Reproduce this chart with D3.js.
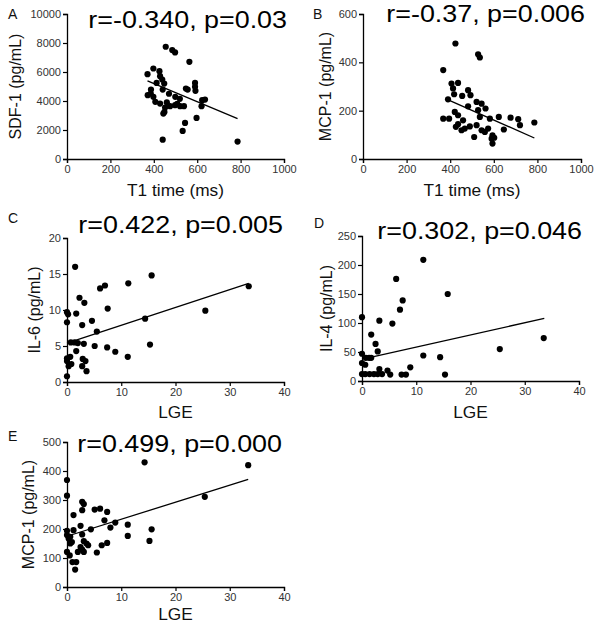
<!DOCTYPE html>
<html><head><meta charset="utf-8">
<script src="https://cdn.jsdelivr.net/npm/d3@7"></script>
<style>body{margin:0;background:#fff}svg{display:block;font-family:Arial,"Liberation Sans",sans-serif}</style>
</head><body><svg id="c" width="600" height="628"></svg>
<script>
// ---- data ----
const aT1 = [455,485,498,564,371,398,426,429,439,413,448,387,372,386,398,441,499,548,556,590,592,590,623,636,620,597,544,533,441,786,407,429,452,449,444,475,498,521,539,508,520,460,470];
const aSDF1 = [7742,7510,7350,6700,5850,6240,6060,5710,5480,5250,5200,4790,4400,4516,4286,4790,4286,4860,4790,5250,4700,4976,4055,4100,3640,2830,2490,1935,1336,1200,3940,3825,3550,3250,3130,3640,3710,3640,3640,3800,4150,3900,4500];
const aFit = [[371,5392],[786,2788]];

const bT1 = [424,528,536,368,406,436,413,418,482,493,455,390,482,521,544,562,528,395,368,421,436,459,536,582,623,677,712,436,426,452,467,490,521,510,544,559,574,594,590,602,594,646,720,786];
const bMCP1 = [478,433,420,368,312,315,292,268,285,264,261,247,218,236,229,209,202,167,167,195,181,160,174,167,174,171,165,144,133,119,126,135,140,91,119,112,126,98,84,88,64,122,140,151];
const bFit = [[383,248],[786,87]];

const cLGE = [1.5,15.6,11.3,7.0,6.1,33.5,2.3,3.2,7.5,25.5,0,0.2,1.7,4.6,14.4,0,2.8,5.5,0.7,1.4,2.0,3.1,5.1,7.4,8.9,11.2,15.3,1.7,0.6,0,0,2.9,3.4,0.8,0.3,2.8,3.6,0];
const cIL6 = [16.0,14.8,13.7,13.4,13.0,13.3,11.7,11.0,10.2,9.9,9.7,9.4,9.5,8.5,8.8,8.3,7.9,7.0,5.5,5.5,5.4,5.3,5.0,4.8,4.2,3.5,5.2,4.3,3.5,3.3,2.9,3.2,2.9,2.5,2.2,2.2,1.5,0.8];
const cFit = [[0,5.4],[33.5,13.7]];

const dLGE = [11.3,6.3,15.8,7.5,7.0,0,3.2,5.6,1.7,2.5,2.9,0,0.7,1.3,1.7,11.3,14.4,25.4,33.5,0,0.6,8.9,3.2,4.7,0,0.6,1.4,2.2,2.9,3.7,5.2,7.3,8.1,15.3];
const dIL4 = [209,176,150,139,123,110,104,99,80,64,51,47,40,40,40,44,41,55,74,31,28,23.5,20.6,18,12,12,12,12,12,12,11,11,11,11];
const dFit = [[0.3,38],[33.6,108]];

const eLGE = [14.3,33.4,0,0,25.4,2.8,3.1,2.8,5.1,6.1,1.2,7.4,6.9,8.9,8.0,11.2,15.6,2.5,4.4,1.2,0,2.8,0,11.2,0.3,0.6,0.9,0.6,15.2,7.4,6.4,3.1,3.6,2.5,2.0,3.9,3.1,5.5,0,0.5,1.0,1.7,1.5,2.8];
const eMCP1 = [430,420,369,315,311,294,286,265,267,270,248,259,230,222,205,215,199,211,199,196,194,181,179,176,167,173,155,150,159,152,144,158,150,138,121,144,121,119,121,109,86,86,60,129];
const eFit = [[0,175],[33.4,371]];

const t1Ticks = [0,200,400,600,800,1000];
const sdfTicks = [0,2000,4000,6000,8000,10000];
const mcpBTicks = [0,200,400,600];
const lgeTicks = [0,10,20,30,40];
const il6Ticks = [0,5,10,15,20];
const il4Ticks = [0,50,100,150,200,250];
const mcpETicks = [0,100,200,300,400,500];

const panels = [
 {letter:"A", lx:8, ly:19, xs:aT1, ys:aSDF1, fit:aFit, xd:[0,1000], yd:[0,10000], xt:t1Ticks, yt:sdfTicks,
  px:[67,284], py:[159,14], annot:"r=-0.340, p=0.03", ax:287, ay:28, xTitle:"T1 time (ms)", xty:196, yTitle:"SDF-1 (pg/mL)", ytx:21},
 {letter:"B", lx:313, ly:19, xs:bT1, ys:bMCP1, fit:bFit, xd:[0,1000], yd:[0,600], xt:t1Ticks, yt:mcpBTicks,
  px:[363,581], py:[159,14], annot:"r=-0.37, p=0.006", ax:585, ay:22, xTitle:"T1 time (ms)", xty:196, yTitle:"MCP-1 (pg/mL)", ytx:331},
 {letter:"C", lx:8, ly:223, xs:cLGE, ys:cIL6, fit:cFit, xd:[0,40], yd:[0,20], xt:lgeTicks, yt:il6Ticks,
  px:[67,284], py:[382,238], annot:"r=0.422, p=0.005", ax:283, ay:233, xTitle:"LGE", xty:418, yTitle:"IL-6 (pg/mL)", ytx:40},
 {letter:"D", lx:314, ly:228, xs:dLGE, ys:dIL4, fit:dFit, xd:[0,40], yd:[0,250], xt:lgeTicks, yt:il4Ticks,
  px:[362,579], py:[381,236], annot:"r=0.302, p=0.046", ax:582, ay:239, xTitle:"LGE", xty:418, yTitle:"IL-4 (pg/mL)", ytx:332},
 {letter:"E", lx:8, ly:441, xs:eLGE, ys:eMCP1, fit:eFit, xd:[0,40], yd:[0,500], xt:lgeTicks, yt:mcpETicks,
  px:[67,284], py:[587,442], annot:"r=0.499, p=0.000", ax:282, ay:452, xTitle:"LGE", xty:620, yTitle:"MCP-1 (pg/mL)", ytx:34}
];

const svg = d3.select("#c");
panels.forEach(p => {
  const x = d3.scaleLinear().domain(p.xd).range(p.px);
  const y = d3.scaleLinear().domain(p.yd).range(p.py);
  const g = svg.append("g");
  const xa = g.append("g").attr("transform",`translate(0,${p.py[0]})`)
    .call(d3.axisBottom(x).tickValues(p.xt).tickSize(4).tickPadding(2).tickFormat(d3.format("d")));
  const ya = g.append("g").attr("transform",`translate(${p.px[0]},0)`)
    .call(d3.axisLeft(y).tickValues(p.yt).tickSize(4).tickPadding(2).tickFormat(d3.format("d")));
  [xa,ya].forEach(a=>{
    a.select(".domain").attr("stroke","#000").attr("stroke-width",1.3);
    a.selectAll(".tick line").attr("stroke","#000").attr("stroke-width",1.2);
    a.selectAll(".tick text").attr("fill","#333").style("font-size","11px").style("font-family","Arial, 'Liberation Sans', sans-serif");
  });
  g.append("g").selectAll("circle").data(p.xs.map((v,i)=>[v,p.ys[i]])).join("circle")
    .attr("cx",d=>x(d[0])).attr("cy",d=>y(d[1])).attr("r",3.1).attr("fill","#000");
  g.append("line").attr("x1",x(p.fit[0][0])).attr("y1",y(p.fit[0][1]))
    .attr("x2",x(p.fit[1][0])).attr("y2",y(p.fit[1][1])).attr("stroke","#000").attr("stroke-width",1.3);
  g.append("text").attr("x",p.lx).attr("y",p.ly).text(p.letter).style("font-size","14px").attr("fill","#111");
  g.append("text").attr("transform",`translate(${p.ax},${p.ay}) scale(1.12,1)`).attr("text-anchor","end").text(p.annot).style("font-size","24px").attr("fill","#000");
  g.append("text").attr("transform",`translate(${(p.px[0]+p.px[1])/2},${p.xty}) scale(1.08,1)`).attr("text-anchor","middle").text(p.xTitle).style("font-size","16px").attr("fill","#111");
  const cy = (p.py[0]+p.py[1])/2;
  g.append("text").attr("transform",`translate(${p.ytx},${cy}) rotate(-90)`).attr("text-anchor","middle").text(p.yTitle).style("font-size","16px").attr("fill","#111");
});
</script></body></html>
